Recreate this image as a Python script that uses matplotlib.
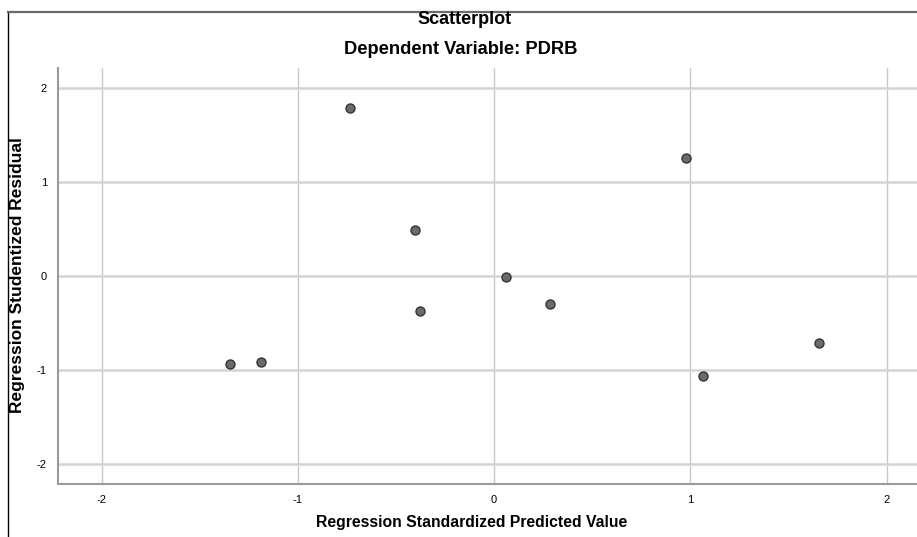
import matplotlib
matplotlib.use("Agg")
import matplotlib.pyplot as plt
from matplotlib.lines import Line2D

plt.rcParams['font.family'] = ['Liberation Sans', 'DejaVu Sans']

# Data
predicted = [-1.346, -1.190, -0.733, -0.405, -0.380, 0.062, 0.286, 0.977, 1.066, 1.657]
residual = [-0.938, -0.917, 1.794, 0.495, -0.374, -0.012, -0.299, 1.256, -1.060, -0.708]
xticks = [-2, -1, 0, 1, 2]
yticks = [-2, -1, 0, 1, 2]
title = "Scatterplot"
subtitle = "Dependent Variable: PDRB"
xlabel = "Regression Standardized Predicted Value"
ylabel = "Regression Studentized Residual"

W, H = 917, 537
fig = plt.figure(figsize=(W / 100, H / 100), dpi=100)

# outer frame lines
fig.add_artist(Line2D([8 / W, 8 / W], [0, 1 - 12 / H], color='black', lw=1.0, transform=fig.transFigure))
fig.add_artist(Line2D([8 / W, 1], [1 - 12 / H, 1 - 12 / H], color='#6a6a6a', lw=1.6, transform=fig.transFigure))

ax = fig.add_axes([58 / W, 1 - 484 / H, (W - 58) / W, (484 - 68) / H])
ax.set_xlim(-2.222, 2.154)
ax.set_ylim(-2.213, 2.217)

ax.set_xticks(xticks)
ax.set_yticks(yticks)
ax.set_xticklabels([str(t) for t in xticks], fontsize=8)
ax.set_yticklabels([str(t) for t in yticks], fontsize=8)
ax.tick_params(length=0, pad=8)

ax.grid(True, axis='x', color='#c8c8c8', lw=1.0)
ax.grid(True, axis='y', color='#d4d4d4', lw=1.8)
ax.set_axisbelow(True)

for s in ['top', 'right']:
    ax.spines[s].set_visible(False)
for s in ['left', 'bottom']:
    ax.spines[s].set_color('#9a9a9a')
    ax.spines[s].set_linewidth(1.5)

ax.scatter(predicted, residual, s=42, facecolor='#6b6b6b', edgecolor='#333333', linewidth=1.0, zorder=3)

fig.text(465 / W, 1 - 20 / H, title, ha='center', va='center', fontsize=13, fontweight='bold')
fig.text(461 / W, 1 - 49 / H, subtitle, ha='center', va='center', fontsize=13.2, fontweight='bold')
fig.text(472 / W, 1 - 522 / H, xlabel, ha='center', va='center', fontsize=11.3, fontweight='bold')
fig.text(18 / W, 1 - 275 / H, ylabel, ha='center', va='center', rotation=90, fontsize=12.5, fontweight='bold')

fig.savefig("out.png", dpi=100)
